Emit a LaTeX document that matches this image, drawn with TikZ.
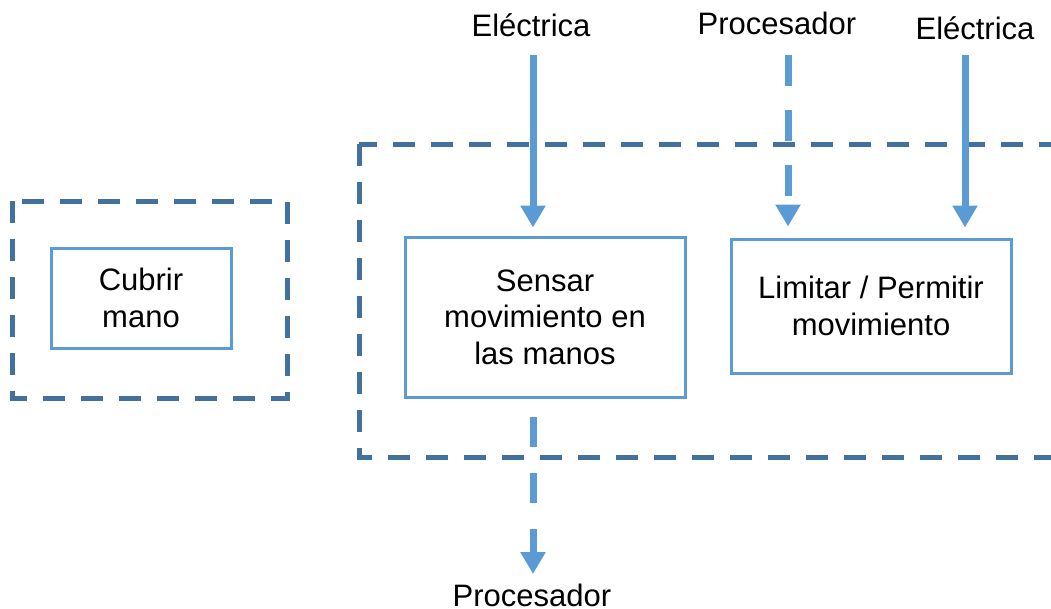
\documentclass[tikz,border=0pt]{standalone}
\usepackage{fontspec}
\setmainfont{Liberation Sans}
\usetikzlibrary{arrows.meta}
\definecolor{boxblue}{HTML}{5B9BD5}
\definecolor{darkblue}{HTML}{41719C}
\tikzset{
  fbox/.style={draw=boxblue, line width=3pt, align=center, inner sep=0pt,
    font=\fontsize{31}{36.5}\selectfont},
  grp/.style={draw=darkblue, line width=5pt, dash pattern=on 22pt off 16pt},
  lbl/.style={anchor=base, inner sep=0pt, font=\fontsize{31}{36.5}\selectfont},
  flow/.style={draw=boxblue, line width=7pt, -{Triangle[width=24pt,length=22pt]}},
  dflow/.style={flow, dash pattern=on 31pt off 24pt}
}
\begin{document}
\begin{tikzpicture}[x=1pt,y=-1pt]
\useasboundingbox (0,0) rectangle (1051,608);
\clip (0,0) rectangle (1051,608);
% groups
\draw[grp] (12,201) rectangle (287,398);
\draw[grp] (359,144) rectangle (1100,457);
% function boxes
\node[fbox, minimum width=180pt, minimum height=100pt] (cubrir) at (141,298) {Cubrir\\mano};
\node[fbox, minimum width=280pt, minimum height=160pt] (sensar) at (545,317) {Sensar\\movimiento en\\las manos};
\node[fbox, minimum width=280pt, minimum height=134pt] (limitar) at (871,306) {Limitar / Permitir\\movimiento};
% labels
\node[lbl] (e1) at (531,36) {Eléctrica};
\node[lbl] (p1) at (777,34) {Procesador};
\node[lbl] (e2) at (975,39) {Eléctrica};
\node[lbl] (p2) at (532,606) {Procesador};
% arrow ends
\coordinate (a1) at (533,55);
\coordinate (a2) at (788,55);
\coordinate (a3) at (965,55);
\coordinate (a4) at (533,574);
\draw[flow] (a1) -- ([yshift=8pt]a1 |- sensar.north);
\draw[dflow] (a2) -- ([yshift=11pt]a2 |- limitar.north);
\draw[flow] (a3) -- ([yshift=10pt]a3 |- limitar.north);
\draw[flow, dash pattern=on 30pt off 26pt] ([yshift=-18pt]a4 |- sensar.south) -- (a4);
\end{tikzpicture}
\end{document}
